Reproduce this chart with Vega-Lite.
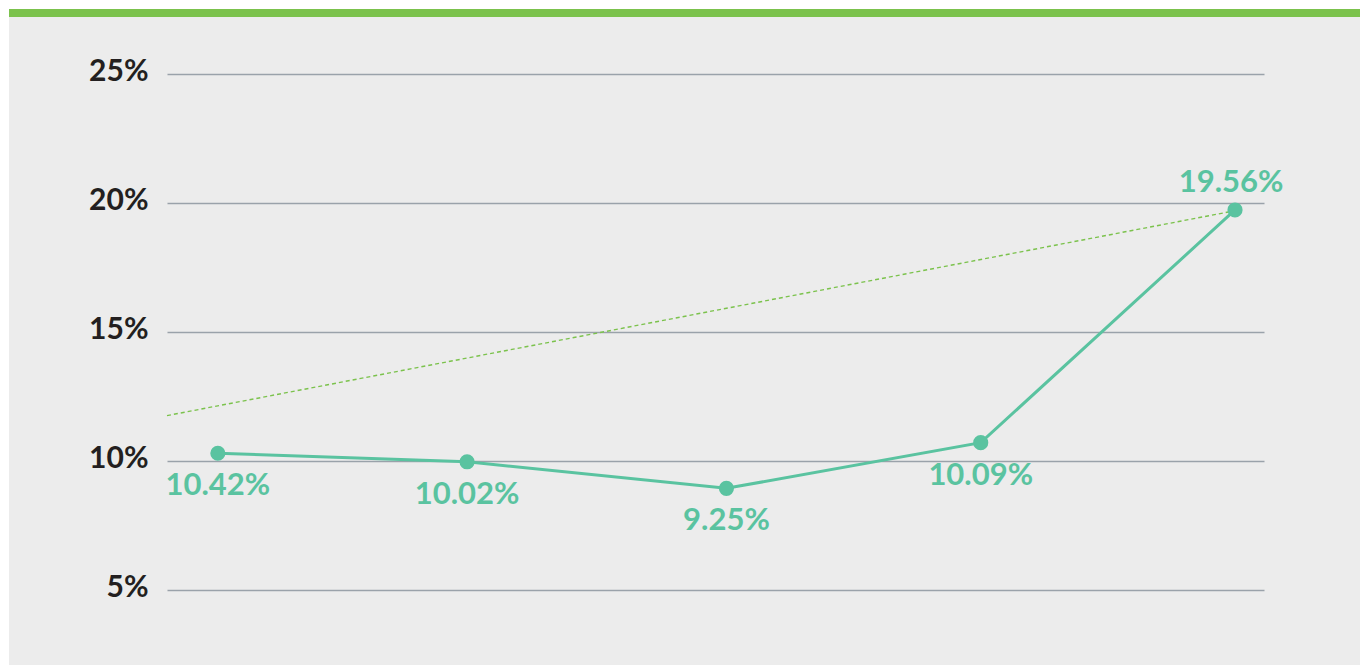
{
  "$schema": "https://vega.github.io/schema/vega-lite/v6.json",
  "width": 1097,
  "height": 516,
  "autosize": {"type": "none"},
  "padding": {"left": 167, "top": 74, "right": 96, "bottom": 75},
  "background": "#ececec",
  "config": {
    "view": {"stroke": null},
    "font": "Lato"
  },
  "datasets": {
    "series": [
      {"period": 1, "value": 10.30, "label": "10.42%", "pos": "below"},
      {"period": 1.98, "value": 9.97, "label": "10.02%", "pos": "below"},
      {"period": 3, "value": 8.94, "label": "9.25%", "pos": "below"},
      {"period": 4, "value": 10.71, "label": "10.09%", "pos": "below"},
      {"period": 5, "value": 19.73, "label": "19.56%", "pos": "above"}
    ],
    "trend": [
      {"period": 0.8, "value": 11.76},
      {"period": 5, "value": 19.7}
    ]
  },
  "resolve": {"scale": {"x": "shared", "y": "shared"}},
  "layer": [
    {
      "data": {"values": [{}]},
      "mark": {"type": "rect", "fill": "#ffffff"},
      "encoding": {
        "x": {"datum": -1, "type": "quantitative", "scale": {"domain": [0.8, 5.114], "nice": false, "zero": false}, "axis": null},
        "x2": {"datum": 0.1787},
        "y": {"datum": 0, "type": "quantitative", "scale": {"domain": [5, 25], "nice": false, "zero": false}},
        "y2": {"datum": 40}
      }
    },
    {
      "data": {"values": [{}]},
      "mark": {"type": "rect", "fill": "#ffffff"},
      "encoding": {
        "x": {"datum": -1, "type": "quantitative", "scale": {"domain": [0.8, 5.114], "nice": false, "zero": false}},
        "x2": {"datum": 7},
        "y": {"datum": 27.519, "type": "quantitative", "scale": {"domain": [5, 25], "nice": false, "zero": false}},
        "y2": {"datum": 40}
      }
    },
    {
      "data": {"values": [{}]},
      "mark": {"type": "rect", "fill": "#7bc24c"},
      "encoding": {
        "x": {"datum": 0.1787, "type": "quantitative", "scale": {"domain": [0.8, 5.114], "nice": false, "zero": false}},
        "x2": {"datum": 7},
        "y": {"datum": 27.209, "type": "quantitative", "scale": {"domain": [5, 25], "nice": false, "zero": false}},
        "y2": {"datum": 27.519}
      }
    },
    {
      "data": {"name": "trend"},
      "mark": {"type": "line", "color": "#7bc24c", "strokeWidth": 1.4, "strokeDash": [4, 3]},
      "encoding": {
        "x": {"field": "period", "type": "quantitative", "scale": {"domain": [0.8, 5.114], "nice": false, "zero": false}},
        "y": {"field": "value", "type": "quantitative", "scale": {"domain": [5, 25], "nice": false, "zero": false}}
      }
    },
    {
      "data": {"name": "series"},
      "mark": {"type": "line", "color": "#5ac3a0", "strokeWidth": 3},
      "encoding": {
        "x": {"field": "period", "type": "quantitative", "scale": {"domain": [0.8, 5.114], "nice": false, "zero": false}},
        "y": {
          "field": "value",
          "type": "quantitative",
          "scale": {"domain": [5, 25], "nice": false, "zero": false},
          "axis": {
            "title": null,
            "values": [5, 10, 15, 20, 25],
            "labelExpr": "datum.value + '%'",
            "labelFont": "Lato",
            "labelFontSize": 30,
            "labelFontWeight": "bold",
            "labelColor": "#231f20",
            "labelPadding": 19,
            "labelBaseline": "middle",
            "labelOffset": -3,
            "domain": false,
            "ticks": false,
            "grid": true,
            "gridColor": "#9aa2aa",
            "gridWidth": 1.5
          }
        }
      }
    },
    {
      "data": {"name": "series"},
      "mark": {"type": "point", "filled": true, "color": "#5ac3a0", "size": 230, "opacity": 1},
      "encoding": {
        "x": {"field": "period", "type": "quantitative", "scale": {"domain": [0.8, 5.114], "nice": false, "zero": false}},
        "y": {"field": "value", "type": "quantitative", "scale": {"domain": [5, 25], "nice": false, "zero": false}}
      }
    },
    {
      "data": {"name": "series"},
      "transform": [{"filter": "datum.pos === 'below'"}],
      "mark": {"type": "text", "color": "#5ac3a0", "font": "Lato", "fontSize": 31, "fontWeight": "bold", "baseline": "middle", "dy": 33},
      "encoding": {
        "x": {"field": "period", "type": "quantitative", "scale": {"domain": [0.8, 5.114], "nice": false, "zero": false}},
        "y": {"field": "value", "type": "quantitative", "scale": {"domain": [5, 25], "nice": false, "zero": false}},
        "text": {"field": "label"}
      }
    },
    {
      "data": {"name": "series"},
      "transform": [{"filter": "datum.pos === 'above'"}],
      "mark": {"type": "text", "color": "#5ac3a0", "font": "Lato", "fontSize": 31, "fontWeight": "bold", "baseline": "middle", "dy": -27, "dx": -4},
      "encoding": {
        "x": {"field": "period", "type": "quantitative", "scale": {"domain": [0.8, 5.114], "nice": false, "zero": false}},
        "y": {"field": "value", "type": "quantitative", "scale": {"domain": [5, 25], "nice": false, "zero": false}},
        "text": {"field": "label"}
      }
    }
  ]
}
